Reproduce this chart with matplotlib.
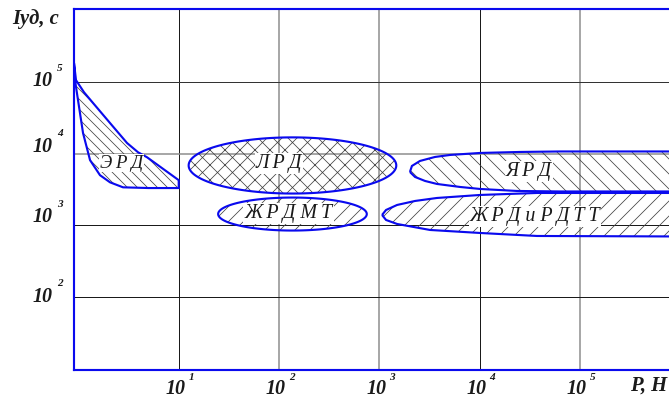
import numpy as np
import matplotlib
matplotlib.use("Agg")
import matplotlib.pyplot as plt

# region outlines, given as log10(P, Н) and log10(Iуд, с)
erd_logP = [-0.044, -0.024, 0.056, 0.146, 0.315, 0.485, 0.595, 0.685, 1.0, 1.0,
            0.7, 0.445, 0.315, 0.215, 0.116, 0.046, -0.004, -0.034]
erd_logI = [5.27, 5.03, 4.86, 4.71, 4.43, 4.15, 4.02, 3.95, 3.63, 3.52,
            3.52, 3.53, 3.60, 3.70, 3.91, 4.29, 4.75, 5.03]

yrd_logP = [3.305, 3.325, 3.405, 3.555, 3.705, 4.004, 4.403, 4.802, 6.0,
            6.0, 4.802, 4.373, 4.004, 3.805, 3.575, 3.456, 3.356]
yrd_logI = [3.745, 3.829, 3.899, 3.955, 3.983, 4.011, 4.025, 4.032, 4.032,
            3.472, 3.472, 3.479, 3.507, 3.535, 3.577, 3.619, 3.675]

zhrd_logP = [3.027, 3.067, 3.177, 3.356, 3.575, 4.004, 4.572, 6.0,
             6.0, 4.572, 4.004, 3.506, 3.177, 3.067]
zhrd_logI = [3.143, 3.213, 3.283, 3.339, 3.381, 3.423, 3.451, 3.451,
             2.842, 2.849, 2.891, 2.933, 3.017, 3.073]

# elliptic regions: centre and half sizes in decades
lrd = dict(cx=2.134, cy=3.836, rx=1.035, ry=0.393)
mt = dict(cx=2.134, cy=3.156, rx=0.741, ry=0.231)

# thin spaces between letters, as in the original drawing
labels = ['Э\u2009Р\u2009Д', 'Л\u2009Р\u2009Д', 'Ж\u2009Р\u2009Д М\u2009Т',
          'Я\u2009Р\u2009Д', 'Ж\u2009Р\u2009Д и Р\u2009Д\u2009Т\u2009Т']
label_logP = [0.43, 2.0, 2.095, 4.49, 4.553]
label_logI = [3.87, 3.857, 3.157, 3.745, 3.115]
label_size = [15, 16, 16, 16, 16]

xdec = [1, 2, 3, 4, 5]
ydec = [2, 3, 4, 5]
ylab_shift = [0, 8, 7, 1]          # px, labels not centred on their lines
vgrid_col = ['0.1', '0.55', '0.55', '0.1', '0.55']
hgrid_col = ['0.1', '0.1', '0.55', '0.2']

BLUE = '#0a0aee'
SERIF = ['Liberation Serif', 'DejaVu Serif']
plt.rcParams['hatch.linewidth'] = 0.6

fig = plt.figure(figsize=(669 / 90, 399 / 90), dpi=90)
ax = fig.add_axes([73.5 / 669, 29 / 399, (669 - 73.5) / 669, 361 / 399])
ax.set_xscale('log')
ax.set_yscale('log')
ax.set_xlim(10 ** -0.049, 10 ** 5.888)
ax.set_ylim(10 ** 0.973, 10 ** 6.026)

for d, c in zip(xdec, vgrid_col):
    ax.axvline(10 ** d, color=c, lw=0.8 if c == '0.1' else 1.2, zorder=0)
for d, c in zip(ydec, hgrid_col):
    ax.axhline(10 ** d, color=c, lw=0.8 if c != '0.55' else 1.2, zorder=0)

def region(lp, li, hatch):
    P = 10 ** np.asarray(lp)
    I = 10 ** np.asarray(li)
    ax.fill(P, I, facecolor='none', edgecolor='0.25', hatch=hatch, lw=0, zorder=2)
    ax.fill(P, I, facecolor='none', edgecolor=BLUE, lw=1.7, zorder=3)

t = np.linspace(0, 2 * np.pi, 200)
region(erd_logP, erd_logI, '\\\\\\')
region(lrd['cx'] + lrd['rx'] * np.cos(t), lrd['cy'] + lrd['ry'] * np.sin(t), 'xx')
region(mt['cx'] + mt['rx'] * np.cos(t), mt['cy'] + mt['ry'] * np.sin(t), '//')
region(yrd_logP, yrd_logI, '\\\\')
region(zhrd_logP, zhrd_logI, '//')

for s, lp, li, fs in zip(labels, label_logP, label_logI, label_size):
    ax.text(10 ** lp, 10 ** li, s, fontsize=fs, family=SERIF,
            style='italic', color='#1a1a1a', ha='center', va='center', zorder=4,
            bbox=dict(boxstyle='square,pad=0.05', fc='white', ec='none'))

# axes frame
for side in ['left', 'top', 'bottom']:
    ax.spines[side].set_color(BLUE)
    ax.spines[side].set_linewidth(1.7)
ax.spines['right'].set_visible(False)
ax.tick_params(which='both', length=0, labelbottom=False, labelleft=False)
ax.minorticks_off()

tick_font = dict(family=SERIF, weight='bold', style='italic', color='#1a1a1a')
for d in xdec:
    ax.annotate('10', (10 ** d, 0), xycoords=('data', 'axes fraction'),
                xytext=(-3, -19), textcoords='offset pixels',
                ha='center', va='center', fontsize=16, **tick_font)
    ax.annotate(str(d), (10 ** d, 0), xycoords=('data', 'axes fraction'),
                xytext=(10, -7), textcoords='offset pixels',
                ha='left', va='center', fontsize=9, **tick_font)
for d, sh in zip(ydec, ylab_shift):
    ax.annotate('10', (0, 10 ** d), xycoords=('axes fraction', 'data'),
                xytext=(-20.5, sh), textcoords='offset pixels',
                ha='right', va='center', fontsize=16, **tick_font)
    ax.annotate(str(d), (0, 10 ** d), xycoords=('axes fraction', 'data'),
                xytext=(-16.5, sh + 13), textcoords='offset pixels',
                ha='left', va='center', fontsize=9, **tick_font)

fig.text(12 / 669, 1 - 19 / 399, 'Iуд, с', ha='left', va='center', fontsize=16.5, **tick_font)
fig.text(630 / 669, 1 - 386 / 399, 'Р, Н', ha='left', va='center', fontsize=16.5, **tick_font)

fig.savefig('out.png', dpi=90)
